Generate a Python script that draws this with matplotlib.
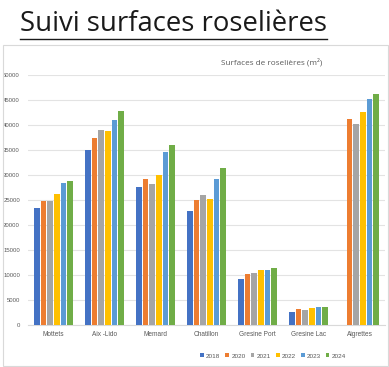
import numpy as np
import matplotlib.pyplot as plt
from matplotlib.lines import Line2D
from matplotlib.patches import Rectangle

sites = ['Mottets', 'Aix -Lido', 'Memard', 'Chatillon', 'Gresine Port', 'Gresine Lac', 'Aigrettes']
years = ['2018', '2020', '2021', '2022', '2023', '2024']
colors = ['#4472C4', '#ED7D31', '#A5A5A5', '#FFC000', '#5B9BD5', '#70AD47']

# surfaces (m²) per year, one value per site
s2018 = [23300, 35000, 27600, 22700, 9200, 2600, 0]
s2020 = [24750, 37400, 29200, 25000, 10100, 3150, 41250]
s2021 = [24700, 39100, 28200, 26000, 10300, 3000, 40150]
s2022 = [26150, 38900, 30000, 25250, 10900, 3270, 42550]
s2023 = [28450, 41100, 34600, 29250, 11050, 3470, 45300]
s2024 = [28750, 42900, 36100, 31400, 11300, 3610, 46200]
series = [s2018, s2020, s2021, s2022, s2023, s2024]

fig = plt.figure(figsize=(3.89, 3.67), dpi=100)

# chart frame
fig.add_artist(Rectangle((3/389, 1 - 366/367), 385/389, 321/367, transform=fig.transFigure,
                         fill=False, edgecolor='#d9d9d9', linewidth=0.8))

# slide title with underline
fig.text(20/389, 1 - 31/367, 'Suivi surfaces roselières', fontsize=19.8, family='Open Sans',
         color='#1a1a1a', ha='left', va='baseline')
fig.add_artist(Line2D([20/389, 327/389], [1 - 38.5/367, 1 - 38.5/367], transform=fig.transFigure,
                      color='#1a1a1a', linewidth=1.0))

ax = fig.add_axes([28/389, 1 - 324.7/367, 357/389, (324.7 - 75.3)/367])
x = np.arange(len(sites))
slot = 0.13
w = 0.107
for i, (yr, vals) in enumerate(zip(years, series)):
    ax.bar(x + (i - 2.5) * slot, vals, width=w, color=colors[i], label=yr, zorder=3)

ax.set_xlim(-0.5, len(sites) - 0.5)
ax.set_ylim(0, 50000)
ax.set_yticks(range(0, 50001, 5000))
ax.set_xticks(x)
ax.set_xticklabels(sites)
for lab in ax.get_xticklabels() + ax.get_yticklabels():
    lab.set_family('Liberation Sans')
ax.tick_params(axis='both', length=0, labelsize=4.3, colors='#595959')
ax.tick_params(axis='x', labelsize=4.7, pad=4.5)
ax.tick_params(axis='y', pad=5.8)
ax.grid(axis='y', color='#e3e3e3', linewidth=0.8, zorder=0)
for sp in ['top', 'right', 'left']:
    ax.spines[sp].set_visible(False)
ax.spines['bottom'].set_color('#d9d9d9')
ax.set_facecolor('none')

fig.text(272/389, 1 - 62/367, 'Surfaces de roselières (m²)', fontsize=5.9, family='Open Sans',
         color='#595959', ha='center', va='center')

fig.legend(loc='center', bbox_to_anchor=(273/389, 1 - 356/367), ncol=6, frameon=False,
           prop={'family': 'Liberation Sans', 'size': 4.6}, handlelength=0.6, handleheight=0.6,
           handletextpad=0.3, columnspacing=0.8, labelcolor='#595959')

fig.savefig('out.png', dpi=100)
